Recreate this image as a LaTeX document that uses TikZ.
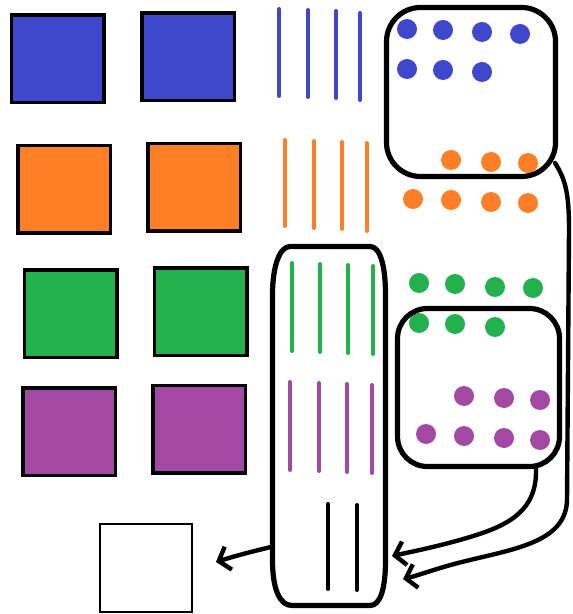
\documentclass[tikz,border=0pt]{standalone}
\usetikzlibrary{arrows.meta}
\definecolor{PBlue}{HTML}{3F48CC}
\definecolor{POrange}{HTML}{FF7F27}
\definecolor{PGreen}{HTML}{22B14C}
\definecolor{PPurple}{HTML}{A349A4}
\tikzset{
  tile/.style={draw=black,line width=1.75pt,minimum width=46.25pt,minimum height=43.75pt,inner sep=0pt},
  tilewhite/.style={tile,fill=white,line width=1.2pt},
  frame/.style={draw=black,line width=2.6pt,inner sep=0pt},
  bar/.style={line width=2pt,line cap=round},
  flow/.style={-{Straight Barb[length=5pt,width=12pt]},line width=2.2pt,line cap=round,line join=round},
}

\begin{document}
\begin{tikzpicture}[x=0.5pt,y=-0.5pt]
    \useasboundingbox (0,0) rectangle (572,614);

    % colour tiles
    \node[tile,fill=PBlue] (blueA) at (57.5,59) {};
    \node[tile,fill=PBlue] (blueB) at (188,57) {};
    \node[tile,fill=POrange] (orangeA) at (64,189.5) {};
    \node[tile,fill=POrange] (orangeB) at (194,187.5) {};
    \node[tile,fill=PGreen] (greenA) at (70.5,313.5) {};
    \node[tile,fill=PGreen] (greenB) at (200.5,311.5) {};
    \node[tile,fill=PPurple] (purpleA) at (69,431.5) {};
    \node[tile,fill=PPurple] (purpleB) at (199,429) {};
    \node[tilewhite] (blank) at (146,568) {};

    % strokes
    \foreach \x/\t/\b in {279/9/96,308/10/97,336/11/98,360/13/100}
      \draw[bar,PBlue] (\x,\t) -- (\x,\b);
    \foreach \x/\t/\b in {285/140/226,314/141/228,342/142/229,367/143/231}
      \draw[bar,POrange] (\x,\t) -- (\x,\b);
    \foreach \x/\t/\b in {292/263/351,320/264/352,348/265/353,373/266/354}
      \draw[bar,PGreen] (\x,\t) -- (\x,\b);
    \foreach \x/\t/\b in {290/382/470,319/383/471,347/384/472,372/385/473}
      \draw[bar,PPurple] (\x,\t) -- (\x,\b);
    \foreach \x/\t/\b in {328/504/589,357/505/590}
      \draw[bar,black] (\x,\t) -- (\x,\b);

    % dots
    \foreach \x/\y in {407/29,443/30,482/32,520/34,407/69,443/70,482/72}
      \fill[PBlue] (\x,\y) circle[radius=5pt];
    \foreach \x/\y in {451/160,491/162,528/163,413/199,451/200,491/202,528/203}
      \fill[POrange] (\x,\y) circle[radius=5pt];
    \foreach \x/\y in {419/283,455/284,495/287,533/288,419/323,455/324,495/327}
      \fill[PGreen] (\x,\y) circle[radius=5pt];
    \foreach \x/\y in {464/396,504/398,540/400,426/434,464/436,504/438,540/440}
      \fill[PPurple] (\x,\y) circle[radius=5pt];

    % frames
    \node[frame,rounded corners=17pt,minimum width=84.5pt,minimum height=84.5pt] (topbox) at (471,92) {};
    \node[frame,rounded corners=15pt,minimum width=81pt,minimum height=79pt] (midbox) at (478.5,387.5) {};
    \draw[frame] (272.5,295) -- (272.5,560) .. controls (272.5,590) and (280,605.5) .. (292,605.5)
      -- (370,605.5) .. controls (380,605.5) and (385.5,590) .. (385.5,560)
      -- (385.5,295) .. controls (385.5,265) and (380,246.5) .. (370,246.5)
      -- (290,246.5) .. controls (280,246.5) and (272.5,265) .. cycle;

    % arrows
    \coordinate (tallL) at (271,547);
    \coordinate (blankR) at (216,562);
    \coordinate (topR) at (555,163);
    \coordinate (tallLow) at (403,579);
    \coordinate (midS) at (536,469);
    \coordinate (tallR) at (392,556);
    \draw[flow] (tallL) .. controls (250,552) and (235,556) .. (blankR);
    \draw[flow] (topR) .. controls (566,180) and (569,195) .. (569,230) -- (567,500)
      .. controls (566,540) and (520,548) .. (470,560) .. controls (440,567) and (420,575) .. (tallLow);
    \draw[flow] (midS) .. controls (537,510) and (510,525) .. (470,537)
      .. controls (440,546) and (415,551) .. (tallR);
  \end{tikzpicture}
\end{document}
